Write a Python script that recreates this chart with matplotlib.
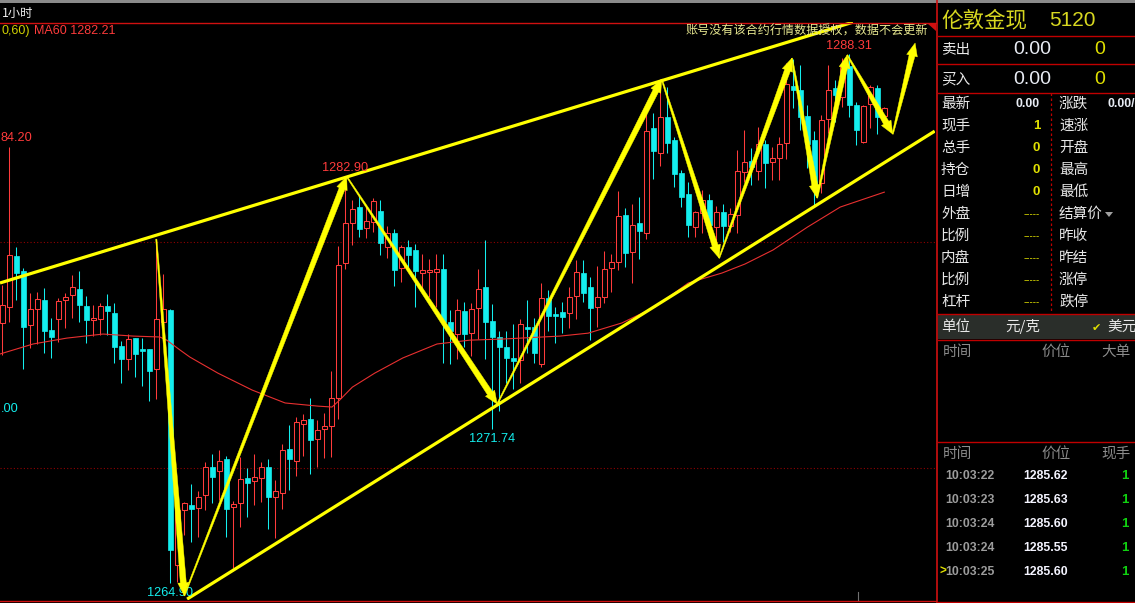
import matplotlib
matplotlib.use("Agg")
import matplotlib.pyplot as plt
from matplotlib.patches import Rectangle, Polygon
from matplotlib.transforms import IdentityTransform
import numpy as np

W, H, DPI = 1135, 603, 100
CJK = ['Noto Sans CJK SC', 'DejaVu Sans']
NUM = ['Liberation Sans', 'DejaVu Sans']

# ---------------- hourly OHLC (London gold spot) ----------------
opens = [1276.42, 1277.13, 1279.38, 1278.72, 1276.33, 1277.04, 1277.43, 1276.11, 1276.59, 1277.43,
         1277.66, 1277.92, 1277.17, 1276.55, 1276.59, 1277.17, 1276.86, 1275.40, 1274.82, 1275.75,
         1275.27, 1275.27, 1274.38, 1276.46, 1276.99, 1265.71, 1268.14, 1268.36, 1268.23, 1268.81,
         1270.05, 1269.87, 1270.40, 1268.28, 1268.45, 1269.56, 1269.43, 1269.56, 1270.05, 1268.72,
         1268.89, 1270.84, 1270.31, 1271.95, 1272.17, 1271.28, 1271.72, 1271.86, 1273.10, 1279.07,
         1280.84, 1281.55, 1280.62, 1280.89, 1281.37, 1279.78, 1280.40, 1278.85, 1279.78, 1279.65,
         1278.63, 1278.67, 1278.67, 1278.81, 1276.46, 1275.93, 1276.95, 1275.97, 1277.08, 1278.01,
         1276.51, 1275.80, 1275.36, 1274.87, 1274.78, 1276.24, 1276.24, 1274.60, 1277.52, 1276.82,
         1276.90, 1276.86, 1277.61, 1278.63, 1278.01, 1277.13, 1277.57, 1278.85, 1279.12, 1281.20,
         1279.56, 1280.84, 1280.40, 1285.05, 1283.94, 1285.53, 1284.51, 1283.05, 1282.13, 1280.67,
         1281.28, 1281.86, 1280.67, 1281.33, 1280.71, 1281.20, 1283.10, 1283.59, 1283.14, 1284.34,
         1283.54, 1283.72, 1284.38, 1286.90, 1286.73, 1285.58, 1284.51, 1282.61, 1285.44, 1286.82,
         1286.42, 1287.79, 1286.06, 1284.43, 1286.11, 1286.82, 1285.58]
highs = [1278.10, 1284.20, 1279.78, 1278.85, 1277.74, 1277.79, 1277.97, 1276.64, 1277.52, 1277.74,
         1278.54, 1278.72, 1277.61, 1277.21, 1277.30, 1277.70, 1277.30, 1275.62, 1275.93, 1275.75,
         1275.75, 1275.27, 1280.13, 1278.59, 1277.04, 1268.36, 1268.50, 1269.29, 1268.98, 1270.27,
         1270.62, 1270.80, 1270.53, 1268.54, 1270.49, 1270.00, 1270.62, 1270.27, 1270.40, 1269.47,
         1271.06, 1271.90, 1272.26, 1272.39, 1273.10, 1272.12, 1272.43, 1274.29, 1279.82, 1282.90,
         1281.86, 1282.08, 1281.59, 1281.95, 1281.86, 1280.71, 1280.58, 1279.87, 1280.09, 1279.91,
         1279.47, 1279.25, 1279.47, 1279.47, 1276.99, 1277.48, 1277.35, 1277.30, 1278.81, 1280.09,
         1277.26, 1276.06, 1276.06, 1276.37, 1276.59, 1277.43, 1276.64, 1278.19, 1277.88, 1277.13,
         1277.35, 1278.01, 1279.20, 1279.20, 1278.45, 1278.94, 1279.60, 1279.47, 1282.26, 1281.51,
         1281.68, 1281.99, 1285.71, 1285.71, 1287.21, 1286.86, 1284.65, 1283.19, 1282.66, 1281.37,
         1282.30, 1282.13, 1281.59, 1281.68, 1281.51, 1284.07, 1284.96, 1284.16, 1285.09, 1284.51,
         1284.21, 1284.65, 1287.92, 1288.10, 1287.83, 1286.06, 1284.91, 1285.62, 1287.83, 1287.17,
         1288.14, 1288.31, 1286.20, 1286.06, 1286.95, 1286.95, 1285.98]
lows = [1275.00, 1276.46, 1277.43, 1274.38, 1275.31, 1275.49, 1275.09, 1274.87, 1275.58, 1276.20,
        1276.64, 1276.46, 1275.53, 1275.84, 1275.89, 1275.89, 1274.65, 1273.76, 1274.34, 1274.03,
        1273.63, 1272.97, 1273.05, 1275.66, 1264.90, 1264.96, 1267.04, 1266.73, 1266.95, 1268.14,
        1268.45, 1268.58, 1266.95, 1265.58, 1267.39, 1267.83, 1268.36, 1268.50, 1267.30, 1266.90,
        1268.19, 1269.03, 1269.65, 1270.53, 1269.74, 1270.05, 1270.44, 1270.49, 1272.17, 1278.81,
        1279.87, 1280.22, 1280.18, 1280.44, 1279.43, 1279.29, 1278.05, 1278.23, 1278.72, 1277.13,
        1277.74, 1277.57, 1277.13, 1274.65, 1274.60, 1274.82, 1275.36, 1274.96, 1275.71, 1274.82,
        1271.74, 1272.52, 1273.76, 1273.50, 1273.76, 1275.09, 1274.65, 1274.47, 1276.06, 1275.53,
        1275.97, 1276.20, 1276.59, 1277.35, 1275.66, 1276.24, 1277.30, 1277.79, 1278.76, 1278.90,
        1278.19, 1279.25, 1280.13, 1282.79, 1283.36, 1283.94, 1282.44, 1281.55, 1280.22, 1280.22,
        1280.40, 1280.22, 1280.00, 1280.00, 1280.44, 1280.40, 1282.66, 1282.52, 1282.74, 1282.39,
        1282.74, 1282.74, 1283.67, 1285.93, 1284.96, 1283.28, 1281.64, 1282.17, 1284.82, 1285.31,
        1285.98, 1285.53, 1284.29, 1284.38, 1285.05, 1284.78, 1285.40]
closes = [1277.21, 1279.43, 1278.63, 1276.24, 1277.04, 1277.48, 1276.06, 1275.80, 1277.39, 1277.57,
          1278.01, 1277.21, 1276.55, 1276.64, 1277.17, 1276.95, 1275.36, 1274.82, 1275.71, 1275.05,
          1275.18, 1274.29, 1276.59, 1277.04, 1266.37, 1268.14, 1268.45, 1268.19, 1268.72, 1270.05,
          1269.60, 1270.31, 1268.19, 1268.41, 1269.51, 1269.34, 1269.60, 1270.05, 1268.72, 1268.98,
          1270.80, 1270.40, 1272.04, 1272.12, 1271.24, 1271.68, 1271.86, 1273.10, 1278.98, 1280.84,
          1281.46, 1280.58, 1280.93, 1281.82, 1279.96, 1280.40, 1278.76, 1279.78, 1279.43, 1278.72,
          1278.76, 1278.76, 1278.81, 1276.46, 1276.06, 1276.99, 1275.93, 1277.04, 1277.92, 1276.46,
          1275.80, 1275.36, 1274.87, 1274.74, 1276.37, 1276.15, 1275.09, 1277.52, 1276.73, 1276.73,
          1276.68, 1277.57, 1278.67, 1277.74, 1277.08, 1277.57, 1278.81, 1279.12, 1281.15, 1279.51,
          1280.75, 1280.49, 1284.91, 1284.03, 1285.53, 1284.38, 1283.01, 1281.99, 1280.75, 1281.33,
          1281.86, 1280.75, 1281.33, 1280.71, 1281.24, 1283.14, 1283.54, 1283.32, 1284.34, 1283.50,
          1283.72, 1284.34, 1286.99, 1286.73, 1285.53, 1284.34, 1282.52, 1285.40, 1286.73, 1286.51,
          1287.75, 1286.06, 1284.96, 1286.02, 1286.86, 1285.53, 1285.93]

# MA60 curve, sampled along the bars (bar index, price)
ma60_idx = [-0.3, 4.4, 9.2, 14.4, 18.7, 22.5, 23.5, 25.4, 26.8, 30.8, 35.7, 40.4, 45.1, 47.1, 48.2,
            50.0, 53.2, 57.2, 62.1, 66.8, 71.5, 79.7, 83.7, 88.5, 93.2, 98.0, 102.8, 106.1, 110.1,
            115.0, 119.7, 126.0]
ma60_val = [1275.05, 1275.49, 1275.75, 1275.93, 1275.84, 1275.80, 1275.66, 1275.22, 1274.91, 1274.20,
            1273.45, 1272.88, 1272.74, 1272.70, 1273.01, 1273.58, 1274.20, 1274.87, 1275.49, 1275.66,
            1275.71, 1275.84, 1275.97, 1276.42, 1277.12, 1278.19, 1278.63, 1279.03, 1279.65, 1280.66,
            1281.55, 1282.21]

# channel lines (bar index, price)
upper_line = [(-0.33, 1278.19), (121.5, 1289.73)]
lower_line = [(26.4, 1264.20), (133.2, 1284.91)]

# swing path drawn as arrows (bar index, price)
swing_idx = [22.0, 26.0, 49.2, 70.7, 94.2, 102.4, 112.8, 116.4, 120.7, 127.2, 130.4]
swing_val = [1280.13, 1264.35, 1282.90, 1272.83, 1287.21, 1279.29, 1288.14, 1281.95, 1288.28, 1284.78, 1288.81]

# price tags on swing extremes: (bar index, price, text, above?)
tags = [(49, 1282.90, "1282.90", True), (121, 1288.31, "1288.31", True),
        (70, 1271.74, "1271.74", False), (24, 1264.90, "1264.90", False)]
# tags whose left part runs past the chart's left edge: (price, visible text, colour)
edge_tags = [(1284.62, "84.20", '#FF3B3B'), (1272.62, ".00", '#14EEEE')]

grid_levels = [1280, 1270]

# right-hand quote panel
panel_left = ["最新", "现手", "总手", "持仓", "日增", "外盘", "比例", "内盘", "比例", "杠杆"]
panel_left_val = ["0.00", "1", "0", "0", "0", "-----", "-----", "-----", "-----", "-----"]
panel_right = ["涨跌", "速涨", "开盘", "最高", "最低", "结算价", "昨收", "昨结", "涨停", "跌停"]
tick_times = ["10:03:22", "10:03:23", "10:03:24", "10:03:24", "10:03:25"]
tick_prices = ["1285.62", "1285.63", "1285.60", "1285.55", "1285.60"]
tick_vols = ["1", "1", "1", "1", "1"]

UP = '#FF3B3B'
DOWN = '#14EEEE'
YEL = '#FFFF00'
DRED = '#C00000'

fig = plt.figure(figsize=(W / DPI, H / DPI), dpi=DPI, facecolor='black')

# ---------- price chart ----------
X0, X1, Y0, Y1 = 0, 935, 22, 600
ax = fig.add_axes([X0 / W, (H - Y1) / H, (X1 - X0) / W, (Y1 - Y0) / H])
ax.set_facecolor('black')
ax.set_xlim(-0.33, 133.24)
ax.set_ylim(1264.16, 1289.74)
ax.axis('off')

for lv in grid_levels:
    ax.axhline(lv, color='#900000', lw=0.8, ls=(0, (1, 2)), zorder=1)

bw = 0.72
for i, (o, h, l, c) in enumerate(zip(opens, highs, lows, closes)):
    if c >= o:
        ax.plot([i, i], [c, h], color=UP, lw=0.75, zorder=3, solid_capstyle='butt')
        ax.plot([i, i], [l, o], color=UP, lw=0.75, zorder=3, solid_capstyle='butt')
        ax.add_patch(Rectangle((i - bw / 2, o), bw, max(c - o, 0.03), facecolor='black',
                               edgecolor=UP, lw=0.75, zorder=3))
    else:
        ax.plot([i, i], [l, h], color=DOWN, lw=0.75, zorder=3, solid_capstyle='butt')
        ax.add_patch(Rectangle((i - bw / 2, c), bw, o - c, facecolor=DOWN,
                               edgecolor=DOWN, lw=0.5, zorder=3))

ax.plot(ma60_idx, ma60_val, color='#E83030', lw=0.8, zorder=4)

for ln in (upper_line, lower_line):
    ax.plot([p[0] for p in ln], [p[1] for p in ln], color=YEL, lw=2.3, zorder=5,
            solid_capstyle='butt')

fig.canvas.draw()


def tapered_arrow(p0, p1, w0=1.2, w1=6.0, hl=13.0, hw=11.0):
    a = ax.transData.transform(p0)
    b = ax.transData.transform(p1)
    d = b - a
    u = d / np.hypot(*d)
    n = np.array([-u[1], u[0]])
    base = b - hl * u
    pts = [a + n * w0 / 2, base + n * w1 / 2, base + n * hw / 2, b,
           base - n * hw / 2, base - n * w1 / 2, a - n * w0 / 2]
    poly = Polygon(pts, closed=True, facecolor=YEL, edgecolor=YEL, lw=0.3,
                   transform=IdentityTransform(), zorder=6)
    fig.add_artist(poly)


for k in range(len(swing_idx) - 1):
    tapered_arrow((swing_idx[k], swing_val[k]), (swing_idx[k + 1], swing_val[k + 1]))

for xi, pv, txt, above in tags:
    col = UP if above else DOWN
    ax.annotate(txt, (xi, pv), xytext=(0, 2 if above else -3), textcoords='offset points',
                ha='center', va='bottom' if above else 'top', color=col,
                fontsize=9.2, family=NUM, zorder=7, annotation_clip=False)

for pv, txt, col in edge_tags:
    ax.annotate(txt, (-0.33, pv), xytext=(0.5, 0), textcoords='offset points',
                ha='left', va='center', color=col, fontsize=9.2, family=NUM, zorder=7)

# ---------- frame, header and panel (pixel overlay) ----------
ov = fig.add_axes([0, 0, 1, 1], facecolor='none')
ov.set_xlim(0, W)
ov.set_ylim(H, 0)
ov.axis('off')
ov.set_zorder(10)

ov.add_patch(Rectangle((0, 0), W, 3, color='#8A8A8A', lw=0))
ov.text(2, 13, "1小时", color='#F0F0F0', fontsize=8.8, family=CJK, va='center', ha='left')
ov.plot([0, 936], [22.5, 22.5], color='#D01010', lw=1.0)
ov.plot([0, 936], [600.5, 600.5], color='#D01010', lw=1.0)
ov.plot([936.5, 936.5], [0, H], color='#D01010', lw=1.2)
ov.add_patch(Polygon([(927, 23), (936, 23), (936, 31)], closed=True, color='#D01010', lw=0))
ov.plot([858, 858], [592, 600], color='#707070', lw=0.8)

ov.text(1, 31, "0,60)", color='#D0D000', fontsize=9, family=NUM, ha='left', va='center')
ov.text(34, 31, "MA60 1282.21", color='#FF3B3B', fontsize=9, family=NUM, ha='left', va='center')
ov.text(928, 31, "账号没有该合约行情数据授权，数据不会更新", color='#E8E890', fontsize=8.7,
        family=CJK, ha='right', va='center')

PX = 938
ov.text(941, 20, "伦敦金现", color='#D8D820', fontsize=15.5, family=CJK, ha='left', va='center')
ov.text(1049, 20, "5120", color='#D8D820', fontsize=15, family=NUM, ha='left', va='center')
for yy in (35.5, 63.5, 92.5, 313.5, 339.5, 441.5):
    ov.plot([PX, W], [yy, yy], color=DRED, lw=1.0)
ov.plot([PX, W], [601.5, 601.5], color=DRED, lw=1.0)

for yy, lab in ((50, "卖出"), (79, "买入")):
    ov.text(941, yy, lab, color='#E8E8E8', fontsize=10.5, family=CJK, ha='left', va='center')
    ov.text(1051, yy, "0.00", color='#E8ECF4', fontsize=14, family=NUM, ha='right', va='center')
    ov.text(1100, yy, "0", color='#E0E000', fontsize=14, family=NUM, ha='center', va='center')

ov.plot([1050.5, 1050.5], [93, 312], color=DRED, lw=0.9, ls=(0, (2, 2)))
for k in range(len(panel_left)):
    yy = 104 + 21.96 * k
    ov.text(941, yy, panel_left[k], color='#E8E8E8', fontsize=10.5, family=CJK, ha='left', va='center')
    v = panel_left_val[k]
    if v == "0.00":
        ov.text(1040, yy, v, color='#E8ECF4', fontsize=8.8, family=NUM, weight='bold',
                ha='right', va='center')
    elif v.startswith('-'):
        ov.text(1040, yy, v, color='#E0E000', fontsize=7, family=NUM, ha='right', va='center')
    else:
        ov.text(1040, yy, v, color='#E0E000', fontsize=9.5, family=NUM, weight='bold',
                ha='right', va='center')
    ov.text(1059, yy, panel_right[k], color='#E8E8E8', fontsize=10.5, family=CJK,
            ha='left', va='center')
ov.text(1107, 104, "0.00/", color='#E8ECF4', fontsize=8.8, family=NUM, weight='bold',
        ha='left', va='center')
ov.add_patch(Polygon([(1105, 212), (1113, 212), (1109, 217)], closed=True, color='#A0A0A0', lw=0))

ov.add_patch(Rectangle((PX, 314), W - PX, 25, color='#2A2E2A', lw=0))
ov.text(941, 327, "单位", color='#E8E8E8', fontsize=10.5, family=CJK, ha='left', va='center')
ov.text(1005, 327, "元/克", color='#E8E8E8', fontsize=10.5, family=CJK, ha='left', va='center')
ov.text(1092, 328, "✔", color='#E0E000', fontsize=8, family=['DejaVu Sans'], ha='left', va='center')
ov.text(1107, 327, "美元", color='#E8E8E8', fontsize=10.5, family=CJK, ha='left', va='center')

for yy, third in ((352, "大单"), (454, "现手")):
    ov.text(943, yy, "时间", color='#8C8C8C', fontsize=10.5, family=CJK, ha='left', va='center')
    ov.text(1041, yy, "价位", color='#8C8C8C', fontsize=10.5, family=CJK, ha='left', va='center')
    ov.text(1101, yy, third, color='#8C8C8C', fontsize=10.5, family=CJK, ha='left', va='center')

for k in range(len(tick_times)):
    yy = 476 + 24 * k
    ov.text(945, yy, tick_times[k], color='#9C9C9C', fontsize=8.8, family=NUM, weight='bold',
            ha='left', va='center')
    ov.text(1023, yy, tick_prices[k], color='#F4F4FF', fontsize=8.8, family=NUM, weight='bold',
            ha='left', va='center')
    ov.text(1129, yy, tick_vols[k], color='#10D010', fontsize=9.5, family=NUM, weight='bold',
            ha='right', va='center')
ov.text(939, 572, ">", color='#E0E000', fontsize=8.5, family=NUM, weight='bold', ha='left', va='center')

fig.savefig("out.png", dpi=DPI, facecolor='black')
